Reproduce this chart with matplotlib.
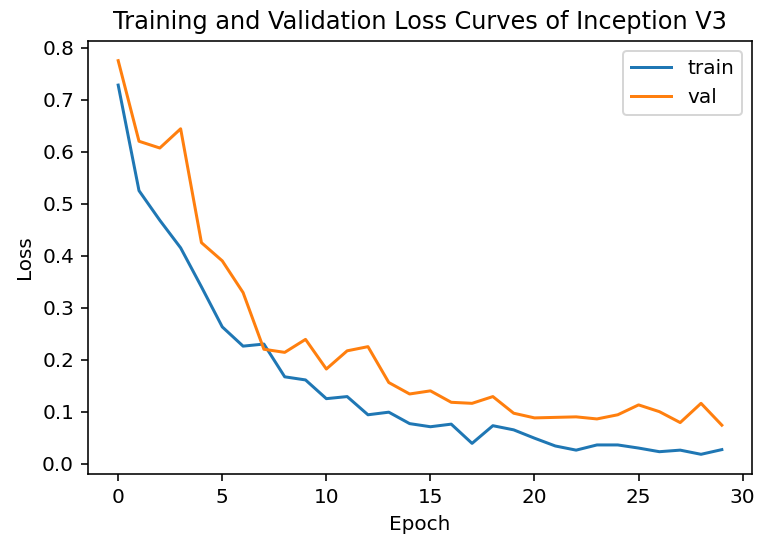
import matplotlib
matplotlib.use('Agg')
import matplotlib.pyplot as plt

# loss per epoch for Inception V3
epochs = list(range(30))
train_loss = [0.728, 0.525, 0.468, 0.415, 0.340, 0.263, 0.226, 0.230, 0.167, 0.161,
              0.125, 0.129, 0.094, 0.099, 0.077, 0.071, 0.076, 0.039, 0.073, 0.065,
              0.049, 0.034, 0.026, 0.036, 0.036, 0.030, 0.023, 0.026, 0.018, 0.027]
val_loss = [0.775, 0.620, 0.607, 0.644, 0.425, 0.390, 0.329, 0.220, 0.214, 0.239,
            0.182, 0.217, 0.225, 0.156, 0.134, 0.140, 0.118, 0.116, 0.129, 0.097,
            0.088, 0.089, 0.090, 0.086, 0.094, 0.113, 0.100, 0.079, 0.116, 0.074]

fig = plt.figure(figsize=(760 / 144, 542 / 144), dpi=144)
ax = fig.add_axes([0.1158, 0.1255, 0.8737, 0.7989])
ax.plot(epochs, train_loss, label='train')
ax.plot(epochs, val_loss, label='val')
ax.set_title('Training and Validation Loss Curves of Inception V3')
ax.set_xlabel('Epoch')
ax.set_ylabel('Loss')
ax.legend(loc='upper right')
fig.savefig('out.png', dpi=144)
